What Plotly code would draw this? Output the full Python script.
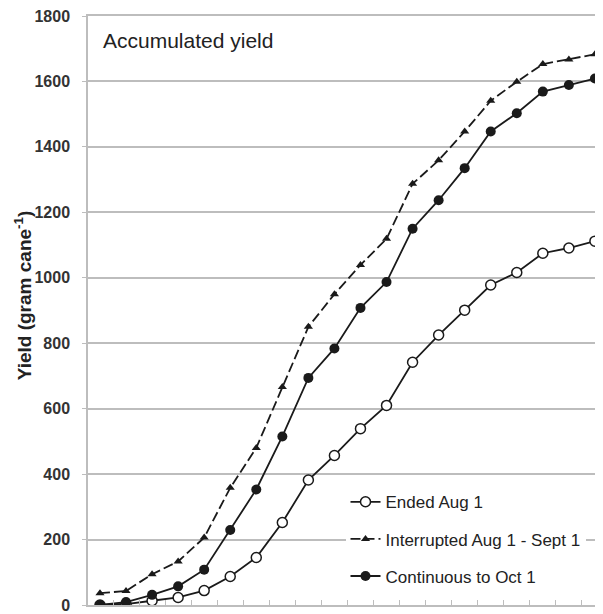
import plotly.graph_objects as go

# sampling dates, one per tick slot (no labels shown on the original axis)
SAMPLES = list(range(1, 21))

ENDED_AUG1 = [0, 3, 13, 23, 44, 87, 145, 252, 382, 457, 539, 610, 742, 825, 901,
              978, 1016, 1075, 1091, 1112]
INTERRUPTED = [36, 43, 94, 133, 206, 358, 480, 666, 850, 950, 1039, 1119, 1287,
               1359, 1447, 1541, 1599, 1653, 1667, 1683]
CONTINUOUS = [0, 9, 31, 57, 108, 229, 353, 515, 694, 784, 908, 987, 1150, 1237,
              1335, 1447, 1503, 1569, 1589, 1609]

SERIES_NAMES = ["Ended Aug 1", "Interrupted Aug 1 - Sept 1", "Continuous to Oct 1"]

INK = "#1a1a1a"
GRID = "#bdbdbd"
FONT = "Liberation Sans, Arial, sans-serif"

fig = go.Figure()

fig.add_trace(go.Scatter(
    x=SAMPLES, y=ENDED_AUG1, name=SERIES_NAMES[0], legendgroup="a",
    mode="lines+markers",
    line=dict(color=INK, width=1.8),
    marker=dict(symbol="circle", size=10, color="white", line=dict(color=INK, width=1.5)),
))
fig.add_trace(go.Scatter(
    x=SAMPLES, y=INTERRUPTED, name=SERIES_NAMES[1], legendgroup="b",
    mode="lines+markers",
    line=dict(color=INK, width=1.8, dash="10px,4px"),
    marker=dict(symbol="triangle-up", size=8, color=INK),
))
fig.add_trace(go.Scatter(
    x=SAMPLES, y=CONTINUOUS, name=SERIES_NAMES[2], legendgroup="c",
    mode="lines+markers",
    line=dict(color=INK, width=1.8),
    marker=dict(symbol="circle", size=10, color=INK),
))

# the page body keeps its 8px browser margin, so the figure is sized to fit
fig.update_layout(
    width=595,
    height=606,
    margin=dict(l=80, r=0, t=8, b=7),
    paper_bgcolor="white",
    plot_bgcolor="white",
    font=dict(family=FONT, color="#222222"),
    showlegend=True,
    legend=dict(
        x=0.5, y=0.205, xanchor="left", yanchor="top",
        bgcolor="white", borderwidth=0,
        font=dict(size=17, color="#222222"),
        tracegroupgap=12,
    ),
    annotations=[
        dict(text="Accumulated yield", xref="paper", yref="paper",
             x=0.025, y=0.959, xanchor="left", yanchor="middle",
             showarrow=False, font=dict(size=21, color="#222222")),
        dict(text="<b>Yield (gram cane<sup>-1</sup>)</b>", xref="paper", yref="paper",
             x=-0.126, y=0.526, xanchor="center", yanchor="middle", textangle=-90,
             showarrow=False, font=dict(size=19, color="#222222")),
    ],
)

fig.update_xaxes(
    range=[0.54, 20.31],
    showgrid=False,
    zeroline=False,
    showline=True, linecolor=GRID, linewidth=1.5, mirror=True,
    tickmode="array", tickvals=[v + 0.5 for v in SAMPLES[:-1]] + [0.5],
    ticks="inside", ticklen=5, tickcolor=GRID, tickwidth=1.2,
    showticklabels=False,
)
fig.update_yaxes(
    range=[0, 1800],
    dtick=200,
    showgrid=True, gridcolor=GRID, gridwidth=1.5,
    zeroline=False,
    showline=True, linecolor=GRID, linewidth=1.5,
    ticks="outside", ticklen=4, tickcolor=GRID,
    ticklabelstandoff=9,
    ticklabeloverflow="allow",
    tickfont=dict(size=16, color="#333333", family=FONT, weight="bold"),
)

fig.write_html("out.html")
